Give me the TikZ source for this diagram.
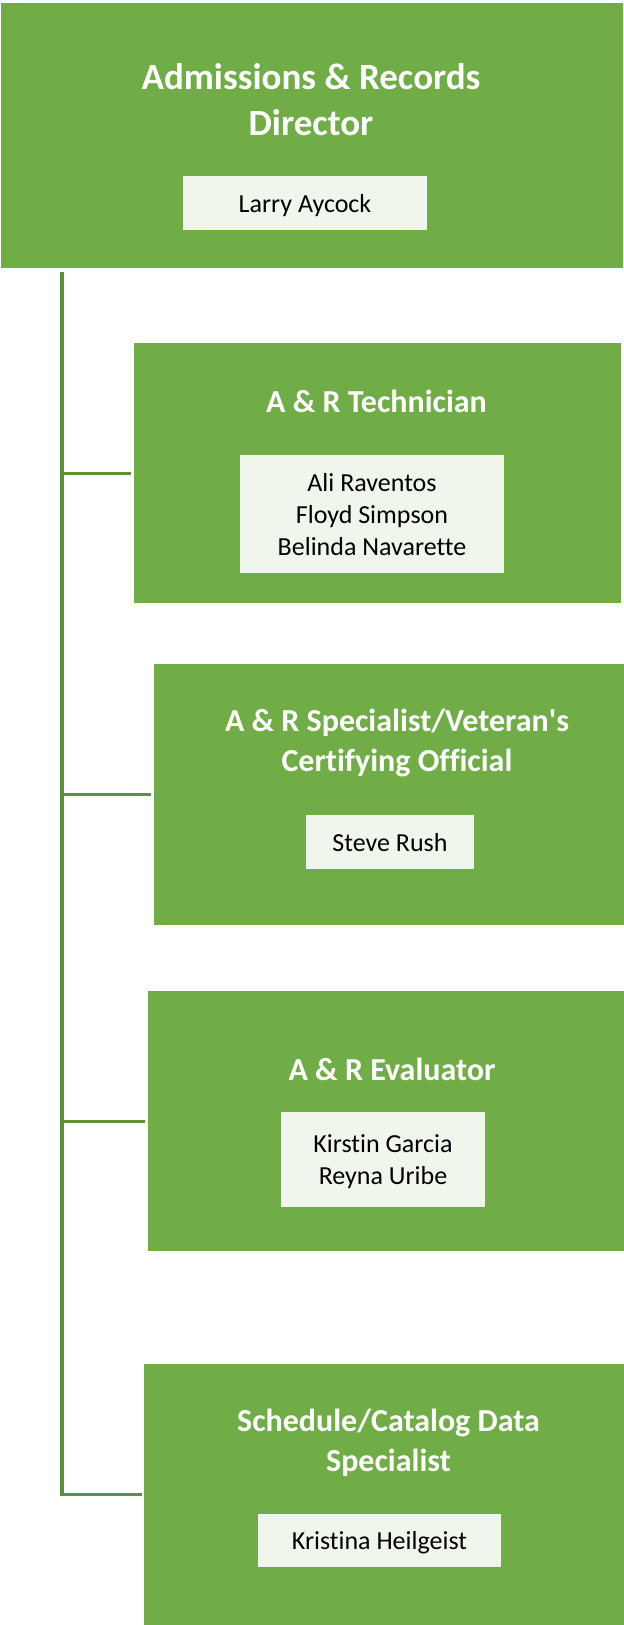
\documentclass[tikz,border=0pt]{standalone}
\usepackage{fontspec}
\setmainfont{Carlito}[Ligatures = {NoCommon}]

\definecolor{boxgreen}{HTML}{70AD47}
\definecolor{namefill}{HTML}{F0F6EC}
\definecolor{linegreen}{HTML}{5B9139}

\def\px{0.75pt}

\begin{document}
\begin{tikzpicture}[x = 0.75pt, y = -0.75pt,
  rolebox/.style = {fill = boxgreen, inner sep = 0pt, anchor = north west},
  title/.style = {text = white, font = \bfseries\fontsize{24}{30}\selectfont, align = center},
  names/.style = {fill = namefill, inner sep = 0pt, text depth = 0pt, font = \fontsize{19.5}{24}\selectfont, align = center},
  link/.style = {draw = linegreen, line width = 2.3pt}]

\useasboundingbox (0, 0) rectangle (624, 1625);

 \node[rolebox, minimum width = 622*\px, minimum height = 265*\px] (dir) at (1, 3) {};
 \node[title, font = \bfseries\fontsize{27.75}{34.5}\selectfont] (dirT) at (311, 100) {Admissions \& Records\\Director};
 \node[names, minimum width = 244*\px, minimum height = 54*\px] (dirN) at (305, 203) {Larry Aycock};

 \node[rolebox, minimum width = 487*\px, minimum height = 260*\px] (tech) at (134, 343) {};
 \node[title] (techT) at (376.5, 401) {A \& R Technician};
 \node[names, minimum width = 264*\px, minimum height = 118*\px] (techN) at (372, 514) {Ali Raventos\\Floyd Simpson\\Belinda Navarette};

 \node[rolebox, minimum width = 470*\px, minimum height = 261*\px] (spec) at (154, 664) {};
 \node[title] (specT) at (397, 743) {A \& R Specialist/Veteran\textquotesingle s\\Certifying Official};
 \node[names, minimum width = 168*\px, minimum height = 54*\px] (specN) at (390, 842) {Steve Rush};

 \node[rolebox, minimum width = 476*\px, minimum height = 260*\px] (eval) at (148, 991) {};
 \node[title] (evalT) at (392, 1069) {A \& R Evaluator};
 \node[names, minimum width = 204*\px, minimum height = 95*\px] (evalN) at (383, 1159.5) {Kirstin Garcia\\Reyna Uribe};

 \node[rolebox, minimum width = 480*\px, minimum height = 261*\px] (sched) at (144, 1364) {};
 \node[title] (schedT) at (388.5, 1443) {Schedule/Catalog Data\\Specialist};
 \node[names, minimum width = 243*\px, minimum height = 53*\px] (schedN) at (379.5, 1540.5) {Kristina Heilgeist};

 % connectors
 \coordinate (trunk) at (62, 272);
 \draw[link] (trunk) |- ([xshift = -2*\px]sched.west);
 \foreach \b in {tech, spec, eval}
  \draw[link] (trunk |- \b.west) -- ([xshift = -3*\px]\b.west);

\end{tikzpicture}
\end{document}
